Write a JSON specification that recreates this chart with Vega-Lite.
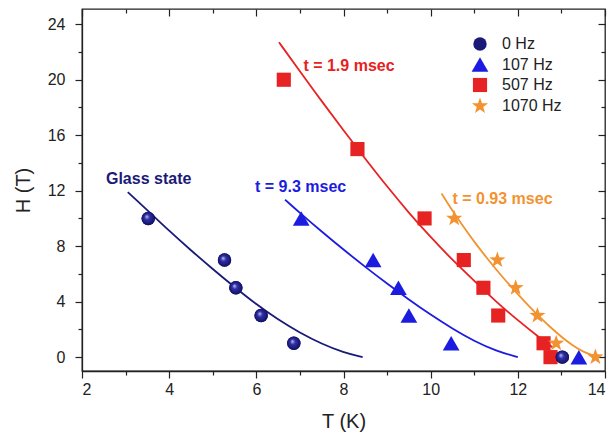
{
  "$schema": "https://vega.github.io/schema/vega-lite/v6.json",
  "width": 523,
  "height": 362,
  "autosize": {"type": "none"},
  "padding": {"left": 82, "top": 9, "right": 8, "bottom": 62},
  "background": "white",
  "config": {
    "view": {"stroke": "#222", "strokeWidth": 1.3},
    "font": "Liberation Sans",
    "axis": {
      "grid": false,
      "domainColor": "#222",
      "tickColor": "#222",
      "labelColor": "#222",
      "titleColor": "#222",
      "labelFont": "Liberation Sans",
      "titleFont": "Liberation Sans",
      "labelFontSize": 16,
      "titleFontSize": 20,
      "titleFontWeight": "normal",
      "tickWidth": 1.2,
      "domainWidth": 1.3
    },
    "legend": {
      "labelFont": "Liberation Sans",
      "labelFontSize": 16,
      "labelColor": "#222"
    }
  },
  "datasets": {
    "pts": [
      {"series": "507 Hz", "T": 6.63, "H": 20},
      {"series": "507 Hz", "T": 8.32, "H": 15},
      {"series": "507 Hz", "T": 9.86, "H": 10},
      {"series": "507 Hz", "T": 10.76, "H": 7},
      {"series": "507 Hz", "T": 11.21, "H": 5},
      {"series": "507 Hz", "T": 11.55, "H": 3},
      {"series": "507 Hz", "T": 12.59, "H": 1},
      {"series": "507 Hz", "T": 12.75, "H": 0},
      {"series": "1070 Hz", "T": 10.54, "H": 10},
      {"series": "1070 Hz", "T": 11.53, "H": 7},
      {"series": "1070 Hz", "T": 11.95, "H": 5},
      {"series": "1070 Hz", "T": 12.45, "H": 3},
      {"series": "1070 Hz", "T": 12.88, "H": 1},
      {"series": "1070 Hz", "T": 13.78, "H": 0},
      {"series": "107 Hz", "T": 7.03, "H": 10},
      {"series": "107 Hz", "T": 8.68, "H": 7},
      {"series": "107 Hz", "T": 9.26, "H": 5},
      {"series": "107 Hz", "T": 9.5, "H": 3},
      {"series": "107 Hz", "T": 10.47, "H": 1},
      {"series": "107 Hz", "T": 13.4, "H": 0},
      {"series": "0 Hz", "T": 3.52, "H": 10},
      {"series": "0 Hz", "T": 5.27, "H": 7},
      {"series": "0 Hz", "T": 5.53, "H": 5},
      {"series": "0 Hz", "T": 6.11, "H": 3},
      {"series": "0 Hz", "T": 6.86, "H": 1},
      {"series": "0 Hz", "T": 13.02, "H": 0}
    ],
    "fits": [
      {"series": "0 Hz", "T": 3.05, "H": 11.9},
      {"series": "0 Hz", "T": 3.5, "H": 10.6},
      {"series": "0 Hz", "T": 4.0, "H": 9.1},
      {"series": "0 Hz", "T": 4.5, "H": 7.7},
      {"series": "0 Hz", "T": 5.0, "H": 6.35},
      {"series": "0 Hz", "T": 5.5, "H": 5.05},
      {"series": "0 Hz", "T": 6.0, "H": 3.8},
      {"series": "0 Hz", "T": 6.5, "H": 2.7},
      {"series": "0 Hz", "T": 7.0, "H": 1.75},
      {"series": "0 Hz", "T": 7.5, "H": 0.95},
      {"series": "0 Hz", "T": 8.0, "H": 0.33},
      {"series": "0 Hz", "T": 8.44, "H": 0.0},
      {"series": "107 Hz", "T": 6.66, "H": 11.35},
      {"series": "107 Hz", "T": 7.0, "H": 10.4},
      {"series": "107 Hz", "T": 7.5, "H": 9.05},
      {"series": "107 Hz", "T": 8.0, "H": 7.75},
      {"series": "107 Hz", "T": 8.5, "H": 6.5},
      {"series": "107 Hz", "T": 9.0, "H": 5.3},
      {"series": "107 Hz", "T": 9.5, "H": 4.15},
      {"series": "107 Hz", "T": 10.0, "H": 3.05},
      {"series": "107 Hz", "T": 10.5, "H": 2.05},
      {"series": "107 Hz", "T": 11.0, "H": 1.15},
      {"series": "107 Hz", "T": 11.5, "H": 0.45},
      {"series": "107 Hz", "T": 12.0, "H": 0.0},
      {"series": "507 Hz", "T": 6.52, "H": 22.7},
      {"series": "507 Hz", "T": 7.0, "H": 20.6},
      {"series": "507 Hz", "T": 7.5, "H": 18.45},
      {"series": "507 Hz", "T": 8.0, "H": 16.35},
      {"series": "507 Hz", "T": 8.5, "H": 14.3},
      {"series": "507 Hz", "T": 9.0, "H": 12.3},
      {"series": "507 Hz", "T": 9.5, "H": 10.4},
      {"series": "507 Hz", "T": 10.0, "H": 8.65},
      {"series": "507 Hz", "T": 10.5, "H": 7.0},
      {"series": "507 Hz", "T": 11.0, "H": 5.5},
      {"series": "507 Hz", "T": 11.5, "H": 4.0},
      {"series": "507 Hz", "T": 12.0, "H": 2.65},
      {"series": "507 Hz", "T": 12.5, "H": 1.4},
      {"series": "507 Hz", "T": 12.8, "H": 0.7},
      {"series": "1070 Hz", "T": 10.25, "H": 11.8},
      {"series": "1070 Hz", "T": 10.5, "H": 10.55},
      {"series": "1070 Hz", "T": 10.75, "H": 9.4},
      {"series": "1070 Hz", "T": 11.0, "H": 8.32},
      {"series": "1070 Hz", "T": 11.25, "H": 7.3},
      {"series": "1070 Hz", "T": 11.5, "H": 6.33},
      {"series": "1070 Hz", "T": 11.75, "H": 5.41},
      {"series": "1070 Hz", "T": 12.0, "H": 4.53},
      {"series": "1070 Hz", "T": 12.25, "H": 3.69},
      {"series": "1070 Hz", "T": 12.5, "H": 2.89},
      {"series": "1070 Hz", "T": 12.75, "H": 2.14},
      {"series": "1070 Hz", "T": 13.0, "H": 1.46},
      {"series": "1070 Hz", "T": 13.25, "H": 0.86},
      {"series": "1070 Hz", "T": 13.5, "H": 0.36},
      {"series": "1070 Hz", "T": 13.85, "H": 0.0}
    ],
    "notes": [
      {"series": "0 Hz", "T": 2.55, "H": 12.85, "label": "Glass state"},
      {"series": "107 Hz", "T": 5.97, "H": 12.3, "label": "t = 9.3 msec"},
      {"series": "507 Hz", "T": 7.08, "H": 21.0, "label": "t = 1.9 msec"},
      {"series": "1070 Hz", "T": 10.5, "H": 11.4, "label": "t = 0.93 msec"}
    ]
  },
  "resolve": {
    "axis": {"x": "independent", "y": "independent"},
    "legend": {"color": "independent", "shape": "independent", "size": "independent"}
  },
  "layer": [
    {
      "data": {"name": "fits"},
      "mark": {"type": "line", "strokeWidth": 1.8, "interpolate": "basis"},
      "encoding": {
        "x": {"field": "T", "type": "quantitative", "scale": {"domain": [2, 14], "nice": false, "zero": false},
              "axis": {"orient": "bottom", "values": [3, 5, 7, 9, 11, 13], "labels": false, "title": null, "domain": false, "tickSize": 4}},
        "y": {"field": "H", "type": "quantitative", "scale": {"domain": [-1, 25.1], "nice": false, "zero": false},
              "axis": {"orient": "left", "values": [2, 6, 10, 14, 18, 22], "labels": false, "title": null, "domain": false, "tickSize": 4}},
        "color": {"field": "series", "type": "nominal", "legend": null,
                  "scale": {"domain": ["0 Hz", "107 Hz", "507 Hz", "1070 Hz"], "range": ["#1a1a78", "#1c1ce0", "#e62222", "#f39230"]}},
        "detail": {"field": "series"}
      }
    },
    {
      "data": {"name": "pts"},
      "mark": {"type": "point", "filled": true, "opacity": 1, "strokeWidth": 0},
      "encoding": {
        "x": {"field": "T", "type": "quantitative", "scale": {"domain": [2, 14], "nice": false, "zero": false},
              "axis": {"orient": "bottom", "values": [2, 4, 6, 8, 10, 12, 14], "title": "T (K)", "tickSize": 7, "labelPadding": 3, "titlePadding": 14}},
        "y": {"field": "H", "type": "quantitative", "scale": {"domain": [-1, 25.1], "nice": false, "zero": false},
              "axis": {"orient": "left", "values": [0, 4, 8, 12, 16, 20, 24], "title": "H (T)", "tickSize": 7, "labelPadding": 10, "titlePadding": 14}},
        "color": {"field": "series", "type": "nominal",
                  "scale": {"domain": ["0 Hz", "107 Hz", "507 Hz", "1070 Hz"], "range": ["#1a1a78", "#1c1ce0", "#e62222", "#f39230"]},
                  "legend": {"title": null, "orient": "none", "legendX": 389, "legendY": 27, "padding": 0, "rowPadding": 4, "labelOffset": 13, "symbolStrokeWidth": 0}},
        "shape": {"field": "series", "type": "nominal",
                  "scale": {"domain": ["0 Hz", "107 Hz", "507 Hz", "1070 Hz"], "range": ["circle", "triangle-up", "square", "M0,-1L0.235,-0.324L0.951,-0.309L0.38,0.124L0.588,0.809L0,0.4L-0.588,0.809L-0.38,0.124L-0.951,-0.309L-0.235,-0.324Z"]},
                  "legend": {"title": null, "orient": "none", "legendX": 389, "legendY": 27, "padding": 0, "rowPadding": 4, "labelOffset": 13, "symbolStrokeWidth": 0}},
        "size": {"field": "series", "type": "nominal",
                 "scale": {"type": "ordinal", "domain": ["0 Hz", "107 Hz", "507 Hz", "1070 Hz"], "range": [180, 280, 200, 290]},
                 "legend": {"title": null, "orient": "none", "legendX": 389, "legendY": 27, "padding": 0, "rowPadding": 4, "labelOffset": 13, "symbolStrokeWidth": 0}}
      }
    },
    {
      "data": {"name": "pts"},
      "transform": [{"filter": "datum.series === '0 Hz'"}],
      "mark": {"type": "point", "shape": "circle", "size": 180, "filled": true, "opacity": 1, "strokeWidth": 0,
               "fill": {"gradient": "radial", "x1": 0.38, "y1": 0.35, "r1": 0, "x2": 0.5, "y2": 0.5, "r2": 0.55,
                        "stops": [{"offset": 0, "color": "#c8c8f8"}, {"offset": 0.35, "color": "#3030a8"}, {"offset": 1, "color": "#0c0c58"}]}},
      "encoding": {
        "x": {"field": "T", "type": "quantitative", "scale": {"domain": [2, 14], "nice": false, "zero": false},
              "axis": {"orient": "top", "values": [3, 5, 7, 9, 11, 13], "labels": false, "title": null, "domain": false, "tickSize": -4}},
        "y": {"field": "H", "type": "quantitative", "scale": {"domain": [-1, 25.1], "nice": false, "zero": false},
              "axis": {"orient": "right", "values": [2, 6, 10, 14, 18, 22], "labels": false, "title": null, "domain": false, "tickSize": -4}}
      }
    },
    {
      "data": {"name": "notes"},
      "mark": {"type": "text", "align": "left", "baseline": "middle", "fontSize": 16, "fontWeight": "bold", "font": "Liberation Sans"},
      "encoding": {
        "x": {"field": "T", "type": "quantitative", "scale": {"domain": [2, 14], "nice": false, "zero": false},
              "axis": {"orient": "top", "values": [2, 4, 6, 8, 10, 12, 14], "labels": false, "title": null, "domain": false, "tickSize": -7}},
        "y": {"field": "H", "type": "quantitative", "scale": {"domain": [-1, 25.1], "nice": false, "zero": false},
              "axis": {"orient": "right", "values": [0, 4, 8, 12, 16, 20, 24], "labels": false, "title": null, "domain": false, "tickSize": -7}},
        "text": {"field": "label"},
        "color": {"field": "series", "type": "nominal", "legend": null,
                  "scale": {"domain": ["0 Hz", "107 Hz", "507 Hz", "1070 Hz"], "range": ["#1a1a78", "#1c1ce0", "#e62222", "#f39230"]}}
      }
    }
  ]
}
